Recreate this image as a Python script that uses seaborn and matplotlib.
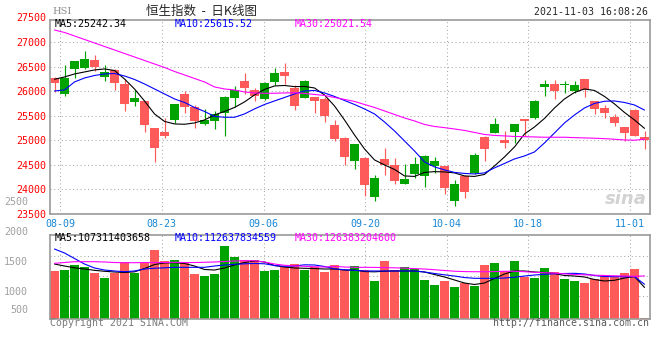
import numpy as np
import matplotlib
matplotlib.use("Agg")
import matplotlib.pyplot as plt
import seaborn as sns

# ── data (2021-08-06 .. 2021-11-03) ──
opens = [26265, 25950, 26445, 26480, 26640, 26300, 26435, 26150, 25790, 25810,
         25257, 25175, 25415, 25945, 25673, 25332, 25400, 25551, 25870, 26210,
         26026, 25837, 26196, 26400, 26073, 25870, 25877, 25843, 25312, 25053,
         24583, 24645, 23849, 24618, 24496, 24108, 24312, 24277, 24482, 24475,
         23767, 24277, 24326, 25073, 25155, 25006, 25175, 25435, 25449, 26082,
         26149, 26130, 26012, 26251, 25802, 25665, 25482, 25265, 25618, 25061]
closes = [26175, 26280, 26620, 26655, 26500, 26400, 26175, 25740, 25857, 25310,
          24850, 25090, 25740, 25686, 25400, 25414, 25537, 25890, 26026, 26073,
          25910, 26175, 26367, 26318, 25706, 26210, 25808, 25502, 25026, 24665,
          24924, 24087, 24236, 24496, 24175, 24210, 24516, 24679, 24577, 24033,
          24108, 23951, 24700, 24822, 25333, 24951, 25333, 25394, 25808, 26149,
          26012, 26150, 26128, 26026, 25633, 25551, 25359, 25155, 25088, 25006]
highs = [26298, 26540, 26625, 26830, 26730, 26540, 26450, 26245, 26026, 25810,
         25257, 25460, 25745, 26012, 25720, 25640, 25604, 25900, 26108, 26380,
         26073, 26196, 26482, 26571, 26128, 26230, 25880, 25890, 25414, 25060,
         24930, 24650, 24292, 24849, 24645, 24516, 24665, 24690, 24665, 24480,
         24190, 24280, 24747, 25080, 25449, 25190, 25340, 25440, 25820, 26231,
         26231, 26210, 26210, 26255, 25805, 25720, 25530, 25265, 25639, 25190]
lows = [25990, 25910, 26270, 26450, 26410, 26200, 26030, 25605, 25700, 25175,
        24565, 25040, 25350, 25550, 25245, 25312, 25225, 25090, 25673, 25945,
        25808, 25820, 26128, 26143, 25618, 25869, 25563, 25380, 24992, 24496,
        24414, 23870, 23767, 24292, 24102, 24100, 24224, 24041, 24339, 23898,
        23665, 23816, 24320, 24583, 25150, 24837, 24939, 25088, 25440, 25910,
        25837, 25971, 25971, 25890, 25537, 25449, 25292, 24992, 25080, 24816]

ma5 = [26245, 26292, 26353, 26394, 26435, 26455, 26424, 26251, 26047, 25802,
       25537, 25384, 25333, 25326, 25353, 25414, 25516, 25588, 25669, 25782,
       25924, 26037, 26108, 26118, 26094, 26098, 26067, 25924, 25700, 25414,
       25108, 24822, 24598, 24496, 24404, 24271, 24261, 24343, 24359, 24353,
       24333, 24271, 24261, 24302, 24475, 24659, 24863, 25128, 25271, 25445,
       25659, 25843, 25975, 26047, 26016, 25894, 25741, 25567, 25414, 25242.34]
ma10 = [26006, 26026, 26190, 26271, 26322, 26353, 26363, 26312, 26241, 26149,
        26047, 25945, 25843, 25771, 25669, 25588, 25486, 25469, 25469, 25537,
        25639, 25730, 25802, 25873, 25945, 26006, 26016, 25965, 25894, 25812,
        25730, 25639, 25537, 25373, 25190, 24986, 24781, 24557, 24455, 24394,
        24343, 24322, 24312, 24333, 24435, 24526, 24618, 24679, 24761, 24945,
        25149, 25353, 25516, 25659, 25751, 25796, 25802, 25771, 25720, 25615.52]
ma30 = [27251, 27200, 27129, 27057, 26986, 26914, 26843, 26771, 26700, 26629,
        26557, 26486, 26404, 26333, 26261, 26190, 26088, 26047, 26026, 25986,
        25965, 25959, 25959, 25965, 25971, 25955, 25935, 25914, 25873, 25833,
        25792, 25730, 25669, 25598, 25526, 25455, 25394, 25322, 25281, 25257,
        25230, 25200, 25159, 25118, 25098, 25088, 25077, 25073, 25067, 25061,
        25061, 25061, 25053, 25047, 25041, 25033, 25020, 25006, 25000, 25021.54]

# turnover, 1e8 HKD
volume = [1347, 1363, 1447, 1413, 1318, 1230, 1318, 1492, 1318, 1492,
          1697, 1513, 1530, 1492, 1302, 1268, 1302, 1768, 1580, 1530,
          1530, 1352, 1363, 1408, 1463, 1363, 1413, 1335, 1447, 1363,
          1430, 1363, 1180, 1513, 1363, 1408, 1380, 1197, 1113, 1180,
          1080, 1142, 1102, 1447, 1480, 1347, 1513, 1247, 1230, 1397,
          1330, 1213, 1180, 1147, 1213, 1263, 1247, 1313, 1380, 560]
vma5 = [1463, 1430, 1400, 1380, 1358, 1342, 1330, 1322, 1333, 1388,
        1455, 1480, 1485, 1472, 1430, 1372, 1363, 1397, 1447, 1488,
        1513, 1497, 1438, 1413, 1397, 1392, 1388, 1380, 1380, 1363,
        1363, 1338, 1333, 1343, 1347, 1347, 1347, 1330, 1288, 1247,
        1197, 1147, 1122, 1147, 1222, 1297, 1347, 1347, 1330, 1322,
        1305, 1272, 1263, 1247, 1205, 1180, 1192, 1230, 1255, 1073]
vma10 = [1713, 1647, 1555, 1463, 1397, 1363, 1347, 1335, 1347, 1380,
         1393, 1400, 1408, 1408, 1408, 1408, 1430, 1447, 1458, 1467,
         1472, 1467, 1438, 1425, 1430, 1450, 1447, 1422, 1383, 1368,
         1358, 1347, 1347, 1347, 1347, 1347, 1347, 1330, 1305, 1283,
         1263, 1238, 1225, 1225, 1225, 1230, 1243, 1263, 1280, 1292,
         1300, 1305, 1308, 1297, 1272, 1255, 1252, 1252, 1252, 1126]
vma30 = [1475, 1488, 1502, 1502, 1502, 1497, 1488, 1485, 1485, 1488,
         1488, 1488, 1492, 1488, 1488, 1492, 1497, 1505, 1513, 1518,
         1518, 1497, 1463, 1442, 1433, 1425, 1418, 1413, 1425, 1413,
         1408, 1408, 1407, 1403, 1400, 1395, 1387, 1380, 1368, 1355,
         1343, 1337, 1335, 1335, 1337, 1342, 1343, 1335, 1325, 1318,
         1313, 1300, 1288, 1283, 1277, 1272, 1267, 1263, 1258, 1264]

tick_idx = [1, 11, 21, 31, 39, 47, 57]
tick_labels = ["08-09", "08-23", "09-06", "09-20", "10-04", "10-18", "11-01"]
price_ticks = [23500, 24000, 24500, 25000, 25500, 26000, 26500, 27000]
price_top_label = 27500
vol_ticks = [2500, 2000, 1500, 1000]

legend_price = ["MA5:25242.34", "MA10:25615.52", "MA30:25021.54"]
legend_vol = ["MA5:107311403658", "MA10:112637834559", "MA30:126383204600"]

RED, GREEN = "#FF5A5A", "#00A300"
MA_COLORS = ["black", "#0000FF", "#FF00FF"]
GRID = "#A8A8A8"
BORDER = "#9A9A9A"
MONO = "DejaVu Sans Mono"

sns.set_style("white")
plt.rcParams["font.family"] = [MONO]

idx = np.arange(len(opens))
o, c = np.array(opens), np.array(closes)
colors = [GREEN if cc >= oo else RED for oo, cc in zip(o, c)]
# sina spaces its date grid over 59 steps while candles sit on a 10px pitch
grid_x = [-0.45 + k * 60 / 59 for k in tick_idx]

fig = plt.figure(figsize=(6.6, 3.6), dpi=100)
ax = fig.add_axes([50 / 660, 1 - 213.7 / 360, 600 / 660, 194.2 / 360])
axv = fig.add_axes([50 / 660, 1 - 319.3 / 360, 600 / 660, 84.8 / 360])

for a in (ax, axv):
    a.set_xlim(-0.45, 59.55)
    a.set_axisbelow(True)
    for s in a.spines.values():
        s.set_color(BORDER)
        s.set_linewidth(1.2)
    a.tick_params(length=0)

# ── price panel ──
ax.vlines(idx, lows, highs, colors=colors, linewidth=0.85)
body = np.maximum(np.abs(c - o), 22)
ax.bar(idx, body, bottom=np.minimum(o, c), width=0.9, color=colors, linewidth=0)
for vals, col in zip([ma5, ma10, ma30], MA_COLORS):
    sns.lineplot(x=idx, y=vals, ax=ax, color=col, linewidth=0.8, legend=False)

ax.set_ylim(23500, 27465)
ax.set_yticks(price_ticks)
ax.set_yticklabels([str(t) for t in price_ticks], color="red", fontsize=7.2)
ax.tick_params(axis="y", pad=3)
ax.set_xticks(grid_x)
ax.set_xticklabels(tick_labels, color="#1A88D6", fontsize=7.2)
ax.tick_params(axis="x", pad=3.5)
ax.grid(True, color=GRID, linestyle=(0, (1, 2.6)), linewidth=0.75)
ax.set_xlabel("")
ax.set_ylabel("")
ax.text(-0.007, price_top_label, str(price_top_label), color="red", fontsize=7.2,
        ha="right", va="center", transform=ax.get_yaxis_transform(), clip_on=False)
for x0, txt, col in zip([0.007, 0.208, 0.408], legend_price, MA_COLORS):
    ax.text(x0, 0.977, txt, color=col, fontsize=7.2, va="center", transform=ax.transAxes)
ax.text(0.995, 0.075, "sina", color="#D2D2D2", fontsize=13, fontweight="bold",
        style="italic", family="DejaVu Sans", ha="right", va="center", transform=ax.transAxes)

# ── volume panel ──
axv.bar(idx, volume, width=0.9, color=colors, linewidth=0)
for vals, col in zip([vma5, vma10, vma30], MA_COLORS):
    sns.lineplot(x=idx, y=vals, ax=axv, color=col, linewidth=0.8, legend=False)
axv.set_ylim(542, 1955)
axv.set_yticks([])
axv.set_xticks(grid_x)
axv.set_xticklabels([])
axv.grid(True, axis="x", color=GRID, linestyle=(0, (1, 2.6)), linewidth=0.75)
for f in [0.28, 0.515, 0.752]:
    axv.plot([0, 1], [f, f], transform=axv.transAxes, color=GRID,
             linestyle=(0, (1, 2.6)), linewidth=0.75, zorder=0.5)
axv.set_xlabel("")
axv.set_ylabel("")
for t in vol_ticks:
    axv.text(-0.0367, t, str(t), color="#A0A0A0", fontsize=7.2, ha="right", va="center",
             transform=axv.get_yaxis_transform(), clip_on=False)
axv.text(-0.0367, 0.11, "500", color="#A0A0A0", fontsize=7.2, ha="right", va="center",
         transform=axv.transAxes, clip_on=False)
for x0, txt, col in zip([0.007, 0.208, 0.408], legend_vol, MA_COLORS):
    axv.text(x0, 0.955, txt, color=col, fontsize=7.2, va="center", transform=axv.transAxes)

# ── header / footer ──
fig.text(52 / 660, 1 - 11.5 / 360, "HSI", color="#8C8C8C", fontsize=7,
         family="DejaVu Serif", va="center")
fig.text(201 / 660, 1 - 11 / 360, "恒生指数  -  日K线图", fontsize=9,
         family=["Noto Sans CJK SC", "DejaVu Sans"], ha="center", va="center")
fig.text(648 / 660, 1 - 12 / 360, "2021-11-03 16:08:26", fontsize=7.1,
         ha="right", va="center")
fig.text(50 / 660, 1 - 323.5 / 360, "Copyright 2021 SINA.COM", fontsize=7.1,
         color="#7A7A7A", va="center")
fig.text(649 / 660, 1 - 323.5 / 360, "http://finance.sina.com.cn", fontsize=7.1,
         color="#5A5A5A", ha="right", va="center")

fig.savefig("out.png", dpi=100, facecolor="white")
